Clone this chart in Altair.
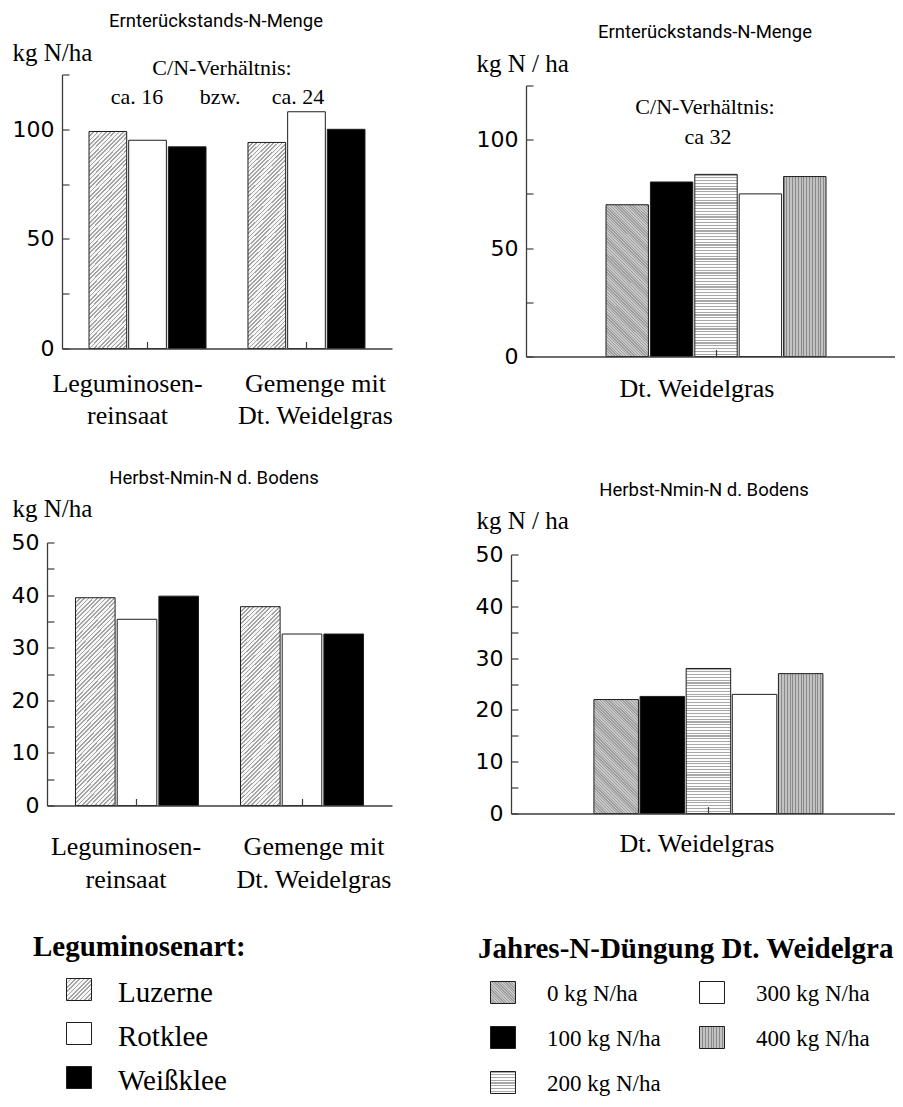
import altair as alt
import pandas as pd

# ---------------- data ----------------
GROUPS = ["Leguminosen-\nreinsaat", "Gemenge mit\nDt. Weidelgras"]
LEGUMES = ["Luzerne", "Rotklee", "Weißklee"]
residue_luzerne = [99, 94]
residue_rotklee = [95, 108]
residue_weissklee = [92, 100]
nmin_luzerne = [39.5, 37.8]
nmin_rotklee = [35.4, 32.6]
nmin_weissklee = [39.8, 32.6]

GRASS = ["Dt. Weidelgras"]
N_LEVELS = ["0 kg N/ha", "100 kg N/ha", "200 kg N/ha", "300 kg N/ha", "400 kg N/ha"]
grass_residue = [70, 80.5, 84, 75, 83]
grass_nmin = [22, 22.6, 28, 23, 27]

RESIDUE_TICKS = [0, 25, 50, 75, 100, 125]
NMIN_TICKS = [0, 5, 10, 15, 20, 25, 30, 35, 40, 45, 50]

TITLE_RESIDUE = "Ernterückstands-N-Menge"
TITLE_NMIN = "Herbst-Nmin-N d. Bodens"
UNIT_LEGUME = "kg N/ha"
UNIT_GRASS = "kg N / ha"
CN_HEAD = "C/N-Verhältnis:"
CN_LEGUME = ["ca. 16", "bzw.", "ca. 24"]
CN_GRASS = "ca 32"
LEGEND_LEGUME = "Leguminosenart:"
LEGEND_GRASS = "Jahres-N-Düngung Dt. Weidelgras"

# ---------------- style ----------------
SERIF = "Liberation Serif"
SANS = "DejaVu Sans"
TITLE_FONT = "Roboto"
INK = "#1e1e1e"
AXIS = "#3c3c3c"


def stripes(w, h, kind, period, line, bg, frac):
    """linear gradient with hard stops, imitating a hatch pattern"""
    if kind == "h":
        x1, y1, x2, y2, span = 0, 0, 0, 1, h
    elif kind == "v":
        x1, y1, x2, y2, span = 0, 0, 1, 0, w
    elif kind == "/":
        k = (w + h) / (w * w + h * h)
        x1, y1, x2, y2, span = 0, 0, w * k, h * k, (w + h) / 2 ** 0.5
    else:
        k = (w + h) / (w * w + h * h)
        x1, y1, x2, y2, span = 0, 1, w * k, 1 - h * k, (w + h) / 2 ** 0.5
    n = max(2, round(span / period))
    stops = []
    for i in range(n):
        a, b, c = i / n, (i + frac) / n, (i + 1) / n
        stops += [
            {"offset": round(a, 5), "color": line},
            {"offset": round(b, 5), "color": line},
            {"offset": round(b, 5), "color": bg},
            {"offset": round(c, 5), "color": bg},
        ]
    return {"gradient": "linear", "x1": x1, "y1": y1, "x2": round(x2, 4),
            "y2": round(y2, 4), "stops": stops}


def legume_fills(w, h):
    return {
        "Luzerne": stripes(w, h, "/", 3.0, "#a4a4a4", "#f6f6f6", 0.4),
        "Rotklee": "#ffffff",
        "Weißklee": "#000000",
    }


def grass_fills(w, h0, h200):
    return {
        "0 kg N/ha": stripes(w, h0, "\\", 2.0, "#9e9e9e", "#c8c8c8", 0.5),
        "100 kg N/ha": "#000000",
        "200 kg N/ha": stripes(w, h200, "h", 2.8, "#a8a8a8", "#fcfcfc", 0.4),
        "300 kg N/ha": "#ffffff",
        "400 kg N/ha": stripes(w, h200, "v", 2.8, "#8a8a8a", "#c2c2c2", 0.35),
    }


def legume_df(a, b, c):
    rows = []
    for i, g in enumerate(GROUPS):
        for cat, vals in zip(LEGUMES, (a, b, c)):
            rows.append({"group": g, "cat": cat, "value": vals[i]})
    return pd.DataFrame(rows)


def grass_df(vals):
    return pd.DataFrame({"group": GRASS * len(N_LEVELS), "cat": N_LEVELS, "value": vals})


def panel(df, groups, cats, fills, ymax, ticks, label_step, W, H, x_range, y_range,
          pad_inner, pad_outer, band_align, cluster, off_pad, yaxis_offset,
          title, title_dx, title_offset, unit, unit_x, unit_y,
          xlab_pad, xlab_lh, xlab_offset, notes):
    xs = alt.Scale(domain=groups, range=x_range, paddingInner=pad_inner,
                   paddingOuter=pad_outer, align=band_align)
    ys = alt.Scale(domain=[0, ymax], range=y_range, nice=False, zero=True)
    xax = alt.Axis(
        title=None, labelAngle=0, labelExpr="split(datum.label, '\\n')",
        labelFont=SERIF, labelFontSize=26, labelColor="black", labelBaseline="top",
        labelPadding=xlab_pad, labelLineHeight=xlab_lh, labelOffset=xlab_offset,
        labelLimit=400, tickSize=alt.ExprRef("-7"), tickColor=AXIS, tickWidth=1.2,
        domainColor=AXIS, domainWidth=1.3, zindex=1,
    )
    yax = alt.Axis(
        values=ticks, labelExpr=f"datum.value % {label_step} == 0 ? datum.label : ''",
        labelFont=SANS, labelFontSize=22, labelColor="black", labelPadding=15,
        labelOverlap=False, tickSize=alt.ExprRef("-7"), tickColor=AXIS, tickWidth=1.2,
        domainColor=AXIS, domainWidth=1.3, grid=False, zindex=1, offset=yaxis_offset,
        title=unit, titleAngle=0, titleAlign="left", titleBaseline="alphabetic",
        titleX=unit_x, titleY=unit_y, titleFont=SERIF, titleFontSize=25,
        titleFontWeight="normal", titleColor="black",
    )
    offs = alt.Scale(domain=cats, range=[0, cluster], paddingInner=off_pad, paddingOuter=0)
    layers = []
    for c in cats:
        layers.append(
            alt.Chart(df)
            .transform_filter(alt.datum.cat == c)
            .mark_bar(fill=fills[c], stroke=INK, strokeWidth=1)
            .encode(
                x=alt.X("group:N", scale=xs, axis=xax),
                xOffset=alt.XOffset("cat:N", scale=offs),
                y=alt.Y("value:Q", scale=ys, axis=yax),
            )
        )
    for g, text, yv, dx in notes:
        nd = pd.DataFrame({"group": [g], "note": [text]})
        layers.append(
            alt.Chart(nd)
            .mark_text(font=SERIF, fontSize=22, color="black", baseline="alphabetic", dx=dx)
            .encode(
                x=alt.X("group:N", scale=xs, axis=xax),
                y=alt.YDatum(yv, type="quantitative", scale=ys, axis=yax),
                text="note:N",
            )
        )
    tp = alt.TitleParams(
        text=title, font=TITLE_FONT, fontSize=18.5, fontWeight="normal", color="black",
        anchor="middle", frame="group", dx=title_dx, offset=title_offset,
    )
    return alt.layer(*layers).properties(width=W, height=H, title=tp)


def legend(title, labels, fills, cols, rows, x_range, y_range, title_dx, text_dx,
           title_size, text_size, text_dy, W, H, title_limit):
    items = pd.DataFrame({"label": labels, "col": cols, "row": rows})
    head = pd.DataFrame({"label": [title], "col": [0], "row": [0]})
    xs = alt.Scale(domain=[0, 1], range=x_range, nice=False, zero=False)
    ys = alt.Scale(domain=[0, 3], range=y_range, nice=False, zero=False)
    X = alt.X("col:Q", scale=xs, axis=None)
    Y = alt.Y("row:Q", scale=ys, axis=None)
    title_mark = dict(align="left", baseline="alphabetic", dx=title_dx, dy=10, font=SERIF,
                      fontSize=title_size, fontWeight="bold", color="black")
    if title_limit:
        title_mark.update(limit=title_limit, ellipsis="\u200b")
    layers = [alt.Chart(head).mark_text(**title_mark).encode(x=X, y=Y, text="label:N")]
    for lab in labels:
        layers.append(
            alt.Chart(items)
            .transform_filter(alt.datum.label == lab)
            .mark_rect(width=25, height=22, fill=fills[lab], stroke=INK, strokeWidth=1)
            .encode(x=X, y=Y)
        )
    layers.append(
        alt.Chart(items)
        .mark_text(align="left", baseline="alphabetic", dx=text_dx, dy=text_dy,
                   font=SERIF, fontSize=text_size, color="black")
        .encode(x=X, y=Y, text="label:N")
    )
    return alt.layer(*layers).properties(width=W, height=H)


tl = panel(
    legume_df(residue_luzerne, residue_rotklee, residue_weissklee), GROUPS, LEGUMES,
    legume_fills(37.7, 212), 125, RESIDUE_TICKS, 50, 345, 274, [15, 345], [274, 0],
    0.264, 0.17, 0.5, 117, 0.05, -15,
    TITLE_RESIDUE, -3.5, 10, UNIT_LEGUME, -50, -14, 28.5, 32,
    {"condition": {"test": "datum.index < 0.5", "value": -20}, "value": 9},
    [(GROUPS[0], CN_HEAD, 124.8, 74.5), (GROUPS[0], CN_LEGUME[0], 111.4, -10.5),
     (GROUPS[0], CN_LEGUME[1], 111.4, 72.5), (GROUPS[1], CN_LEGUME[2], 111.4, -8.5)],
)
tr = panel(
    grass_df(grass_residue), GRASS, N_LEVELS, grass_fills(42.4, 152, 182),
    125, RESIDUE_TICKS, 50, 384, 282, [15, 384], [282, 11],
    0.0, 0.3386, 0.537, 220, 0.045, -15,
    TITLE_RESIDUE, 2, 10, UNIT_GRASS, -50, -3, 25.5, 32, -19,
    [(GRASS[0], CN_HEAD, 112, -11), (GRASS[0], CN_GRASS, 97.9, -8)],
)
bl = panel(
    legume_df(nmin_luzerne, nmin_rotklee, nmin_weissklee), GROUPS, LEGUMES,
    legume_fills(39.6, 203), 50, NMIN_TICKS, 10, 345, 263, [0, 345], [263, 0],
    0.2545, 0.1727, 0.5, 123, 0.05, 0,
    TITLE_NMIN, -5.5, 9, UNIT_LEGUME, -35, -26, 34.5, 33,
    {"condition": {"test": "datum.index < 0.5", "value": -11}, "value": 12},
    [],
)
br = panel(
    grass_df(grass_nmin), GRASS, N_LEVELS, grass_fills(44.5, 114, 145),
    50, NMIN_TICKS, 10, 384, 271, [0, 384], [271, 12],
    0.0, 0.3384, 0.535, 229, 0.035, 0,
    TITLE_NMIN, 1, 9, UNIT_GRASS, -35, -14, 23.5, 32, -11.5,
    [],
)

leg_l = legend(
    LEGEND_LEGUME, LEGUMES, legume_fills(25, 22), [0] * 3, [1, 2, 3],
    [32, 200], [11, 143], -46, 39, 29, 29, 12, 200, 150, 0,
)
leg_r = legend(
    LEGEND_GRASS, N_LEVELS, grass_fills(25, 22, 22), [i // 3 for i in range(5)],
    [i % 3 + 1 for i in range(5)], [-8, 201], [13, 148], -25, 44, 29, 23, 8,
    380, 140, 417,
)

chart = (
    alt.concat(tl, tr, bl, br, leg_l, leg_r, columns=2, align="each",
               spacing={"row": 40, "column": 82})
    .resolve_scale(xOffset="independent")
    .properties(padding={"left": 3, "top": 3.5, "right": 0, "bottom": 0}, background="white")
    .configure_view(stroke=None)
)
chart.save("out.html", embed_options={"renderer": "svg", "actions": False})
